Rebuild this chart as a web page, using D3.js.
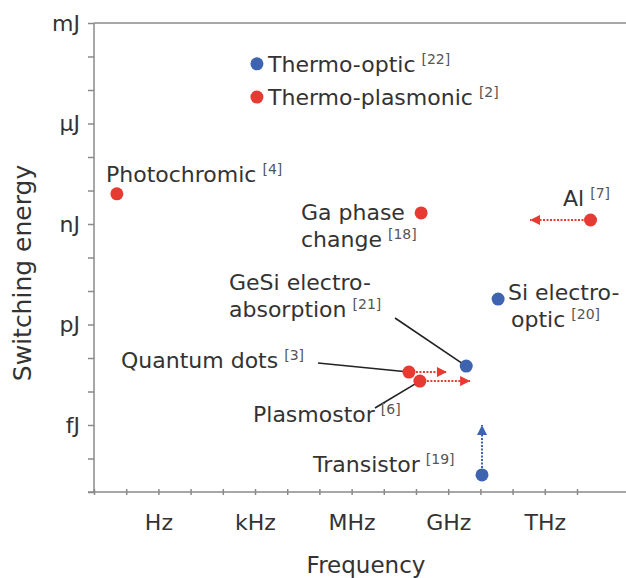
<!DOCTYPE html>
<html>
<head>
<meta charset="utf-8">
<script src="https://cdn.jsdelivr.net/npm/d3@7"></script>
<style>
  body { margin: 0; background: #fff; }
  svg { display: block; font-family: "DejaVu Sans", Verdana, sans-serif; }
</style>
</head>
<body>
<svg id="chart" width="626" height="578"></svg>
<script>
// ---- data (log10 of frequency in Hz, log10 of energy in J) ----
const names = ["Thermo-optic", "Thermo-plasmonic", "Photochromic", "Ga phase change", "Al",
               "Si electro-optic", "GeSi electro-absorption", "Quantum dots", "Plasmostor", "Transistor"];
const refs = ["22", "2", "4", "18", "7", "20", "21", "3", "6", "19"];
const kinds = ["blue", "red", "red", "red", "red", "blue", "blue", "red", "red", "blue"];
const logFreq = [3.06, 3.06, -1.29, 8.16, 13.42, 10.55, 9.56, 7.78, 8.12, 10.05];
const logEnergy = [-4.22, -5.21, -8.1, -8.67, -8.88, -11.24, -13.24, -13.42, -13.69, -16.49];
// arrows: [name, target log freq, target log energy]
const arrowTargets = [
  ["Al", 11.54, -8.88],
  ["Quantum dots", 8.96, -13.42],
  ["Plasmostor", 9.68, -13.69],
  ["Transistor", 10.05, -15.0]
];
const yTickLabels = { "-3": "mJ", "-6": "μJ", "-9": "nJ", "-12": "pJ", "-15": "fJ" };
const xTickLabels = { "0": "Hz", "3": "kHz", "6": "MHz", "9": "GHz", "12": "THz" };

// ---- setup ----
const svg = d3.select("#chart");
const colors = { red: "#e63a32", blue: "#3d63b1" };
const textColor = "#333";
const axisColor = "#8a8a8a";

// 32.2 px per decade horizontally, 33.5 px per decade vertically
const x = d3.scaleLog().domain([1e-2, 1e14]).range([94, 609.2]);
const y = d3.scaleLog().domain([1e-17, 1e-3]).range([492, 23]);

// ---- axes ----
const yAxis = d3.axisLeft(y)
  .tickValues(d3.range(-17, -2).map(e => Math.pow(10, e)))
  .tickSize(6)
  .tickFormat(d => yTickLabels[Math.round(Math.log10(d))] || "");

const xAxis = d3.axisBottom(x)
  .tickValues(d3.range(-2, 14).map(e => Math.pow(10, e)))
  .tickSize(6)
  .tickFormat(d => xTickLabels[Math.round(Math.log10(d))] || "");

const gy = svg.append("g").attr("transform", "translate(94,0)").call(yAxis);
const gx = svg.append("g").attr("transform", "translate(0,492)").call(xAxis);

[gx, gy].forEach(g => {
  g.select(".domain").remove();
  g.selectAll(".tick line").attr("stroke", axisColor).attr("stroke-width", 1.5);
  g.selectAll(".tick text")
    .attr("fill", textColor)
    .style("font-size", "22px")
    .style("font-family", "DejaVu Sans, Verdana, sans-serif");
});
gx.selectAll(".tick line").attr("y1", -3).attr("y2", 3);
gy.selectAll(".tick line").attr("x1", -6).attr("x2", 0);
gx.selectAll(".tick text").attr("y", 22).attr("dy", "0.71em");
gy.selectAll(".tick text").attr("x", -14);

// axis lines (left, bottom, top)
svg.append("line").attr("x1", 94).attr("x2", 94).attr("y1", 23).attr("y2", 492)
  .attr("stroke", axisColor).attr("stroke-width", 1.5);
svg.append("line").attr("x1", 88).attr("x2", 626).attr("y1", 492).attr("y2", 492)
  .attr("stroke", axisColor).attr("stroke-width", 1.5);
svg.append("line").attr("x1", 94).attr("x2", 626).attr("y1", 23).attr("y2", 23)
  .attr("stroke", axisColor).attr("stroke-width", 1.5);

// axis titles
svg.append("text")
  .attr("x", 366).attr("y", 573)
  .attr("text-anchor", "middle")
  .attr("fill", textColor)
  .style("font-size", "23px")
  .text("Frequency");

svg.append("text")
  .attr("transform", "translate(31,273) rotate(-90)")
  .attr("text-anchor", "middle")
  .attr("fill", textColor)
  .style("font-size", "25px")
  .text("Switching energy");

// ---- arrow markers ----
const defs = svg.append("defs");
Object.entries(colors).forEach(([k, c]) => {
  defs.append("marker")
    .attr("id", "head-" + k)
    .attr("viewBox", "0 0 10 10")
    .attr("refX", 10).attr("refY", 5)
    .attr("markerWidth", 12).attr("markerHeight", 10)
    .attr("markerUnits", "userSpaceOnUse")
    .attr("orient", "auto")
    .append("path")
    .attr("d", "M0,0 L10,5 L0,10 Z")
    .attr("fill", c);
});

const points = names.map((n, i) => ({
  name: n, ref: refs[i], kind: kinds[i],
  f: Math.pow(10, logFreq[i]), e: Math.pow(10, logEnergy[i])
}));
const byName = Object.fromEntries(points.map(p => [p.name, p]));

svg.append("g").selectAll("line")
  .data(arrowTargets)
  .join("line")
  .attr("x1", d => x(byName[d[0]].f))
  .attr("y1", d => y(byName[d[0]].e))
  .attr("x2", d => x(Math.pow(10, d[1])))
  .attr("y2", d => y(Math.pow(10, d[2])))
  .attr("stroke", d => colors[byName[d[0]].kind])
  .attr("stroke-width", 2)
  .attr("stroke-dasharray", "2,1.5")
  .attr("marker-end", d => "url(#head-" + byName[d[0]].kind + ")");

// ---- labels ----
// label layout: lines of text, anchor point, optional leader line end near the text
const labelLayout = {
  "Thermo-optic":            { x: 268, y: 72,  lines: ["Thermo-optic"] },
  "Thermo-plasmonic":        { x: 268, y: 105, lines: ["Thermo-plasmonic"] },
  "Photochromic":            { x: 106, y: 182, lines: ["Photochromic"] },
  "Ga phase change":         { x: 301, y: 220, lines: ["Ga phase", "change"] },
  "Al":                      { x: 563, y: 206, lines: ["Al"] },
  "Si electro-optic":        { x: 508, y: 300, lines: ["Si electro-", "optic"], indent: [0, 3] },
  "GeSi electro-absorption": { x: 229, y: 290, lines: ["GeSi electro-", "absorption"], leader: [395, 318] },
  "Quantum dots":            { x: 121, y: 368, lines: ["Quantum dots"], leader: [318, 363] },
  "Plasmostor":              { x: 253, y: 422, lines: ["Plasmostor"], leader: [375, 408] },
  "Transistor":              { x: 313, y: 472, lines: ["Transistor"] }
};

const gLeaders = svg.append("g");
const gLabels = svg.append("g");

points.forEach(p => {
  const L = labelLayout[p.name];
  if (L.leader) {
    gLeaders.append("line")
      .attr("x1", L.leader[0]).attr("y1", L.leader[1])
      .attr("x2", x(p.f)).attr("y2", y(p.e))
      .attr("stroke", "#222").attr("stroke-width", 1.6);
  }
  const t = gLabels.append("text")
    .attr("fill", textColor)
    .style("font-size", "22px");
  L.lines.forEach((ln, i) => {
    t.append("tspan")
      .attr("x", L.x + (L.indent ? L.indent[i] : 0))
      .attr("y", L.y + i * 27)
      .text(ln);
    if (i === L.lines.length - 1) {
      t.append("tspan")
        .attr("dx", 6).attr("dy", -8)
        .attr("fill", "#555")
        .style("font-size", "14px")
        .text("[" + p.ref + "]");
    }
  });
});

// ---- points ----
svg.append("g").selectAll("circle")
  .data(points)
  .join("circle")
  .attr("cx", d => x(d.f))
  .attr("cy", d => y(d.e))
  .attr("r", 6.5)
  .attr("fill", d => colors[d.kind]);
</script>
</body>
</html>
